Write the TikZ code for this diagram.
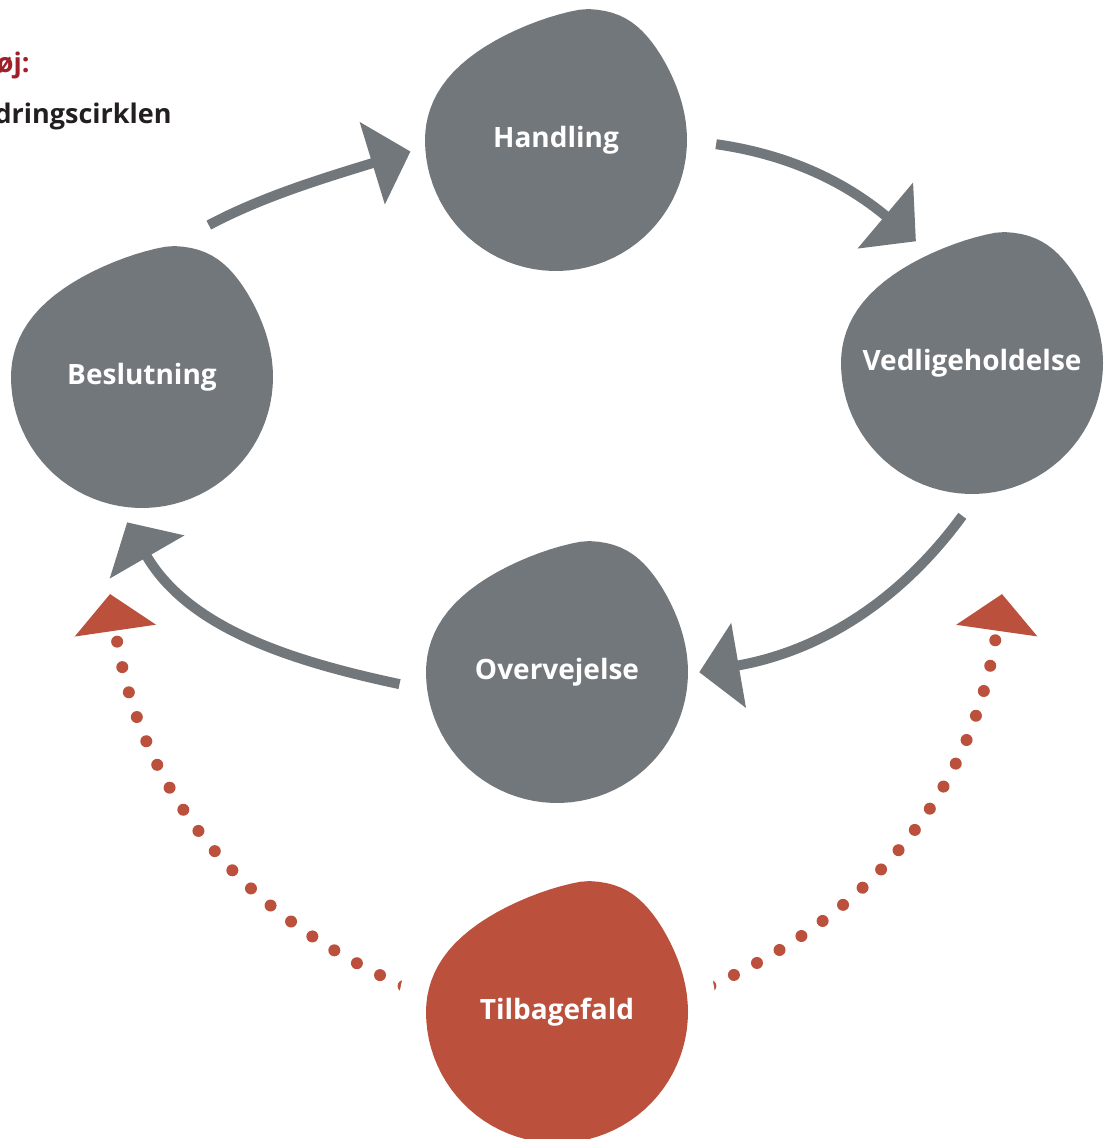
\documentclass[tikz,border=0pt]{standalone}
\usepackage{fontspec}
\setmainfont{Open Sans}
\usetikzlibrary{arrows.meta, backgrounds}
\definecolor{stagegray}{RGB}{114,119,123}
\definecolor{relapsered}{RGB}{187,81,61}
\definecolor{headline}{RGB}{160,32,42}
\definecolor{ink}{RGB}{35,31,32}

\tikzset{
  blob/.pic={\path[pic actions] plot[domain=0:360, samples=91, variable=\t]
    ({131*cos(\t)+28*max(0,sin(\t))^4},
     {-131*sin(\t)+19*max(0,-cos(\t))*max(0,sin(\t))}) -- cycle;}
}

\begin{document}
\begin{tikzpicture}[
  x=0.5pt, y=-0.5pt,
  stage/.style={circle, minimum size=130pt, inner sep=0pt, text=white,
    font=\bfseries\fontsize{14pt}{16pt}\selectfont},
  title/.style={anchor=base east, inner sep=0pt, font=\bfseries\fontsize{13.5pt}{16pt}\selectfont},
  arr/.style={-{Triangle[width=42pt, length=20pt]}, line width=5pt, color=stagegray},
  relapse/.style={-{Triangle[width=40pt, length=18.5pt]}, line width=6pt,
    color=relapsered, line cap=round, dash pattern=on 0pt off 13pt}
]
\useasboundingbox (0,0) rectangle (1107,1139);

% heading (cut at the left edge)
\node[title, text=headline] (kicker) at (30,73) {øj:};
\node[title, text=ink] (heading) at (172,124) {dringscirklen};

% stages
\node[stage] (besl) at (142,377) {Beslutning};
\node[stage] (hand) at (556,140) {Handling};
\node[stage] (vedl) at (972,363) {Vedligeholdelse};
\node[stage] (overv) at (557,672) {Overvejelse};
\node[stage] (tilb) at (557,1012) {Tilbagefald};

% free ends of the relapse arrows
\coordinate (tipL) at (110,594);
\coordinate (tipR) at (1002,594);

\begin{scope}[on background layer]
% cycle
\draw[arr, shorten <=25pt, shorten >=8pt] (besl.80) to[out=28, in=197] (hand.183);
\draw[arr, shorten <=15pt, shorten >=2pt] (hand.0) to[bend left=16] (vedl.114);
\draw[arr, shorten <=14pt, shorten >=6pt] (vedl.273) to[bend left=22] (overv.359);
\draw[arr, shorten <=14.5pt, shorten >=10pt] (overv.188) to[out=168, in=300] (besl.259);

% relapse
\draw[relapse] (tilb.173) to[bend left=30] (tipL);
\draw[relapse] (tilb.7) to[bend right=30] (tipR);

% blobs
\pic[fill=stagegray] at (besl) {blob};
\pic[fill=stagegray] at (hand) {blob};
\pic[fill=stagegray] at (vedl) {blob};
\pic[fill=stagegray] at (overv) {blob};
\pic[draw=white, line width=28pt] at (tilb) {blob};
\pic[fill=relapsered] at (tilb) {blob};
\end{scope}
\end{tikzpicture}
\end{document}
